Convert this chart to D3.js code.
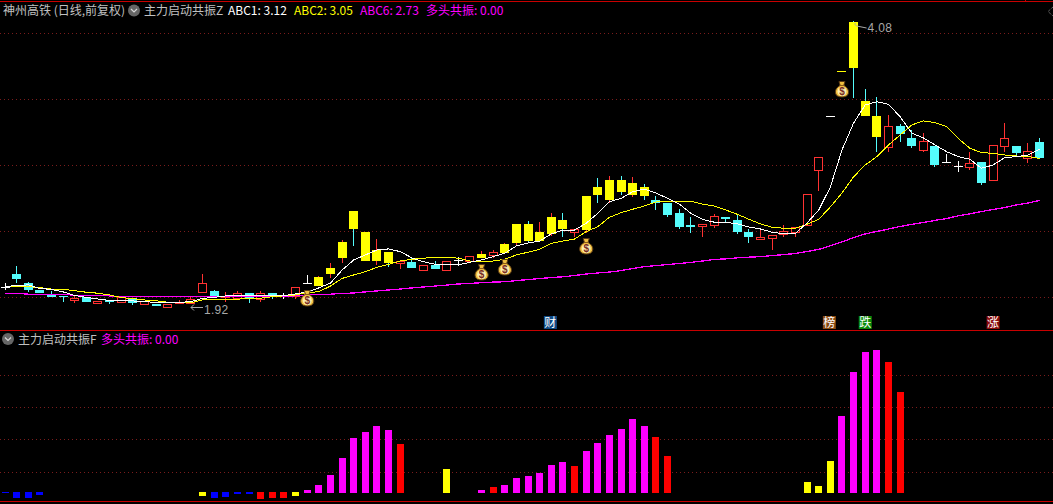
<!DOCTYPE html>
<html>
<head>
<meta charset="utf-8">
<script src="https://cdn.jsdelivr.net/npm/d3@7"></script>
<style>
  html, body { margin: 0; padding: 0; background: #000; overflow: hidden; }
  text { font-family: "Noto Sans CJK SC", "Liberation Sans", sans-serif; font-size: 12px; }
  .num { font-family: "Liberation Sans", sans-serif; letter-spacing: 0.3px; }
</style>
</head>
<body>
<div id="chart"></div>
<script>
// --- Data ---
const opens = [
  2.036, 2.104, 2.053, 2.018, 1.992, 1.984, 1.968, 1.982, 1.949, 1.966,
  1.954, 1.975, 1.947, 1.947, 1.932, 1.950, 1.949, 2.009, 2.013, 1.984,
  1.978, 2.001, 1.970, 2.001, 1.988, 1.988, 2.053, 2.041, 2.104, 2.195,
  2.482, 2.349, 2.177, 2.229, 2.166, 2.170, 2.128, 2.155, 2.128, 2.183,
  2.176, 2.195, 2.212, 2.224, 2.282, 2.399, 2.294, 2.337, 2.424, 2.351,
  2.361, 2.642, 2.554, 2.691, 2.587, 2.642, 2.554, 2.534, 2.469, 2.392,
  2.386, 2.392, 2.443, 2.424, 2.349, 2.306, 2.314, 2.337, 2.351, 2.392,
  2.762, 3.180, 3.584, 4.070, 3.309, 3.182, 2.936, 3.100, 3.004, 2.911,
  2.942, 2.819, 2.794, 2.782, 2.821, 2.693, 2.945, 2.942, 2.851, 2.973
];
const highs = [
  2.055, 2.149, 2.060, 2.018, 2.013, 1.988, 1.992, 1.982, 1.961, 1.966,
  1.983, 1.975, 1.959, 1.947, 1.946, 1.966, 1.982, 2.104, 2.018, 2.009,
  2.013, 2.001, 2.013, 2.001, 2.004, 2.032, 2.098, 2.093, 2.166, 2.300,
  2.482, 2.349, 2.306, 2.229, 2.176, 2.195, 2.153, 2.177, 2.176, 2.202,
  2.204, 2.235, 2.241, 2.282, 2.399, 2.418, 2.411, 2.469, 2.469, 2.365,
  2.581, 2.705, 2.719, 2.719, 2.712, 2.663, 2.581, 2.534, 2.495, 2.443,
  2.399, 2.463, 2.443, 2.456, 2.367, 2.367, 2.329, 2.392, 2.380, 2.594,
  2.858, 3.180, 3.584, 4.080, 3.415, 3.344, 3.190, 3.116, 3.067, 3.043,
  2.942, 2.881, 2.829, 2.896, 2.821, 2.948, 3.124, 2.942, 2.965, 3.004
];
const lows = [
  2.023, 2.062, 2.013, 2.002, 1.982, 1.962, 1.956, 1.957, 1.949, 1.952,
  1.954, 1.947, 1.947, 1.935, 1.932, 1.949, 1.949, 2.009, 1.987, 1.962,
  1.978, 1.957, 1.961, 1.978, 1.975, 1.978, 2.053, 2.041, 2.086, 2.173,
  2.270, 2.177, 2.160, 2.149, 2.136, 2.137, 2.128, 2.132, 2.128, 2.156,
  2.176, 2.195, 2.199, 2.224, 2.276, 2.288, 2.294, 2.331, 2.324, 2.324,
  2.349, 2.541, 2.541, 2.594, 2.581, 2.561, 2.495, 2.450, 2.374, 2.349,
  2.324, 2.380, 2.411, 2.343, 2.288, 2.306, 2.247, 2.324, 2.324, 2.392,
  2.621, 3.180, 3.574, 3.344, 3.182, 2.903, 2.903, 2.980, 2.934, 2.903,
  2.792, 2.819, 2.755, 2.769, 2.663, 2.693, 2.903, 2.866, 2.821, 2.851
];
const closes = [
  2.036, 2.076, 2.018, 2.002, 1.983, 1.982, 1.976, 1.957, 1.961, 1.957,
  1.983, 1.952, 1.959, 1.935, 1.946, 1.955, 1.970, 2.053, 1.987, 1.989,
  2.001, 1.978, 2.001, 1.987, 1.988, 2.032, 2.053, 2.088, 2.137, 2.288,
  2.367, 2.177, 2.241, 2.166, 2.176, 2.137, 2.153, 2.132, 2.176, 2.183,
  2.204, 2.218, 2.229, 2.276, 2.399, 2.294, 2.349, 2.443, 2.367, 2.365,
  2.581, 2.587, 2.691, 2.608, 2.670, 2.581, 2.534, 2.456, 2.380, 2.380,
  2.399, 2.450, 2.430, 2.349, 2.318, 2.318, 2.329, 2.355, 2.380, 2.594,
  2.858, 3.180, 3.574, 3.608, 3.182, 3.012, 3.097, 3.035, 2.942, 2.978,
  2.799, 2.819, 2.794, 2.812, 2.670, 2.948, 3.001, 2.889, 2.901, 2.851
];
const abc1 = [
  2.036, 2.042, 2.045, 2.026, 2.021, 2.008, 1.989, 1.979, 1.971, 1.963,
  1.961, 1.961, 1.958, 1.953, 1.953, 1.953, 1.958, 1.974, 1.979, 1.987,
  1.989, 1.989, 1.989, 1.989, 1.989, 1.997, 2.008, 2.029, 2.055, 2.126,
  2.183, 2.212, 2.241, 2.247, 2.231, 2.195, 2.173, 2.158, 2.155, 2.155,
  2.170, 2.183, 2.202, 2.222, 2.265, 2.282, 2.294, 2.337, 2.361, 2.361,
  2.403, 2.467, 2.543, 2.565, 2.610, 2.628, 2.601, 2.565, 2.527, 2.467,
  2.428, 2.410, 2.410, 2.399, 2.380, 2.367, 2.347, 2.338, 2.341, 2.405,
  2.488, 2.642, 2.911, 3.124, 3.275, 3.303, 3.281, 3.176, 3.043, 3.004,
  2.950, 2.898, 2.861, 2.841, 2.775, 2.799, 2.853, 2.861, 2.873, 2.916
];
const abc2 = [
  2.039, 2.039, 2.036, 2.030, 2.023, 2.022, 2.014, 2.006, 2.001, 1.992,
  1.978, 1.973, 1.966, 1.962, 1.954, 1.952, 1.952, 1.966, 1.966, 1.970,
  1.970, 1.975, 1.975, 1.983, 1.987, 1.992, 2.004, 2.009, 2.039, 2.080,
  2.099, 2.117, 2.141, 2.158, 2.177, 2.187, 2.193, 2.199, 2.199, 2.193,
  2.177, 2.177, 2.177, 2.187, 2.212, 2.228, 2.245, 2.280, 2.294, 2.306,
  2.351, 2.382, 2.441, 2.471, 2.493, 2.514, 2.541, 2.545, 2.545, 2.545,
  2.527, 2.514, 2.488, 2.460, 2.428, 2.399, 2.378, 2.372, 2.372, 2.397,
  2.428, 2.508, 2.601, 2.714, 2.799, 2.861, 2.950, 3.027, 3.108, 3.141,
  3.127, 3.094, 3.001, 2.924, 2.891, 2.886, 2.873, 2.866, 2.861, 2.848
];
const abc6 = [
  2.001, 2.001, 1.996, 1.996, 1.996, 1.996, 1.990, 1.990, 1.990, 1.987,
  1.983, 1.983, 1.983, 1.983, 1.983, 1.983, 1.983, 1.983, 1.983, 1.983,
  1.983, 1.983, 1.983, 1.983, 1.983, 1.988, 1.992, 1.994, 1.996, 2.000,
  2.002, 2.008, 2.013, 2.018, 2.023, 2.029, 2.034, 2.039, 2.044, 2.050,
  2.053, 2.057, 2.060, 2.062, 2.068, 2.074, 2.079, 2.085, 2.089, 2.096,
  2.104, 2.110, 2.115, 2.123, 2.135, 2.145, 2.151, 2.157, 2.163, 2.169,
  2.177, 2.186, 2.189, 2.195, 2.199, 2.202, 2.208, 2.214, 2.220, 2.232,
  2.244, 2.266, 2.288, 2.315, 2.337, 2.352, 2.367, 2.383, 2.396, 2.408,
  2.421, 2.433, 2.450, 2.463, 2.478, 2.491, 2.504, 2.521, 2.534, 2.551
];
const yellowBars = [27, 28, 29, 30, 31, 32, 33, 41, 43, 44, 45, 46, 47, 48, 50, 51, 52, 53, 54, 55, 72, 73, 74, 75];
const signalBars = [26, 41, 43, 50, 72];
const signalPrices = [1.976, 2.115, 2.143, 2.264, 3.415];
const priceGrid = [3.954, 3.327, 2.799, 2.355, 1.982];

// b blue, y yellow, r red, m magenta, . nothing drawn
const histValues = [
  -1, -6, -6, -3, 0, 0, 0, 0, 0, 0,
  0, 0, 0, 0, 0, 0, 0, -4, -6, -5,
  -2, -2, -7, -6, -6, -4, 3, 8, 18, 35,
  55, 61, 67, 63, 49, 0, 0, 0, 24, 0,
  0, 3, 6, 8, 15, 17, 20, 28, 31, 27,
  42, 50, 58, 64, 74, 67, 56, 37, 0, 0,
  0, 0, 0, 0, 0, 0, 0, 0, 0, 11,
  7, 32, 77, 121, 141, 143, 131, 101, 0, 0,
  0, 0, 0, 0, 0, 0, 0, 0, 0, 0
];
const histKinds = (
  "bbbb......" + ".......ybb" +
  "bbrrrymmmm" + "mmmmr...y." +
  ".mrmmmmmmr" + "mmmmmmrr.." +
  ".........y" + "yymmmmrr.." +
  ".........."
).split("");
const histGrid = [21, 54, 86, 118];

const headerTexts = ["神州高铁 (日线,前复权)", "主力启动共振Z", "ABC1: 3.12", "ABC2: 3.05", "ABC6: 2.73", "多头共振: 0.00"];
const subTexts = ["主力启动共振F", "多头共振: 0.00"];
const flags = ["财", "榜", "跌", "涨"];
const flagBars = [47, 71, 74, 85];
const highLabel = 4.08, lowLabel = 1.92;
const highBar = 73, lowBar = 16;

// --- Dimensions ---
const width = 1053, height = 504;
const bodyWidth = 9, histWidth = 7;
const colors = { up: "#ff3232", down: "#54fcfc", flat: "#ffffff", yellow: "#ffff00", magenta: "#ff00ff",
  blue: "#0000ff", red: "#ff0000", grid: "#7a1c1c", frame: "#c80000", label: "#a8a8a8" };

const svg = d3.select("#chart").append("svg")
  .attr("width", width).attr("height", height)
  .style("display", "block")
  .style("background", "#000");

// --- Scales ---
const x = d3.scaleLinear().domain([0, opens.length - 1]).range([5, 1039.6]);
const y = d3.scaleLog().domain([lowLabel, highLabel]).range([309, 21]);
const h = d3.scaleLinear().domain([0, 143]).range([493, 350]);

const snap = v => Math.round(v) + 0.5;

// --- Frame and grid ---
const dotted = (g, yVal) => g.append("line")
  .attr("x1", 0).attr("x2", width)
  .attr("y1", snap(yVal)).attr("y2", snap(yVal))
  .attr("stroke", colors.grid)
  .attr("stroke-dasharray", "1 3");

priceGrid.forEach(p => dotted(svg, y(p)));
histGrid.forEach(v => dotted(svg, h(v)));

[1, 330, 501].forEach(yy => {
  svg.append("line").attr("x1", 0).attr("x2", width)
    .attr("y1", yy + 0.5).attr("y2", yy + 0.5)
    .attr("stroke", colors.frame);
});
svg.append("line").attr("x1", 1025.5).attr("x2", 1025.5).attr("y1", 0).attr("y2", 2).attr("stroke", colors.frame);

// --- Candles ---
const candles = svg.append("g").attr("shape-rendering", "crispEdges");
opens.forEach((o, i) => {
  const c = closes[i];
  const dir = c > o ? "up" : c < o ? "down" : "flat";
  const isYellow = yellowBars.includes(i);
  const cx = Math.floor(x(i));
  const top = Math.round(y(Math.max(o, c)));
  const bottom = Math.round(y(Math.min(o, c)));
  const wickTop = Math.round(y(highs[i]));
  const wickBottom = Math.round(y(lows[i]));

  if (wickTop < top) {
    candles.append("line")
      .attr("x1", cx + 0.5).attr("x2", cx + 0.5)
      .attr("y1", wickTop).attr("y2", top)
      .attr("stroke", colors[dir]);
  }
  if (wickBottom > bottom) {
    candles.append("line")
      .attr("x1", cx + 0.5).attr("x2", cx + 0.5)
      .attr("y1", bottom).attr("y2", wickBottom + 1)
      .attr("stroke", colors[dir]);
  }

  if (dir === "up" && !isYellow) {
    candles.append("rect")
      .attr("x", cx - 4 + 0.5).attr("y", top + 0.5)
      .attr("width", bodyWidth - 1).attr("height", Math.max(1, bottom - top))
      .attr("fill", "#000").attr("stroke", colors.up);
  } else {
    candles.append("rect")
      .attr("x", cx - 4).attr("y", top)
      .attr("width", bodyWidth).attr("height", Math.max(1, bottom - top))
      .attr("fill", isYellow ? colors.yellow : colors[dir]);
  }
});

// --- Moving lines ---
const priceLine = d3.line().x((d, i) => x(i)).y(d => y(d));
[[abc6, colors.magenta, 1.3], [abc2, colors.yellow, 1], [abc1, "#ffffff", 1]].forEach(([vals, col, sw]) => {
  svg.append("path").datum(vals)
    .attr("d", priceLine)
    .attr("fill", "none")
    .attr("stroke", col)
    .attr("stroke-width", sw)
    .attr("shape-rendering", "crispEdges");
});

// --- Money bags ---
signalBars.forEach((b, i) => {
  const g = svg.append("g").attr("transform", `translate(${x(b)},${y(signalPrices[i])})`);
  g.append("path")
    .attr("d", "M-3,-7.5 L3,-7.5 L1.8,-3.5 C5,-2 7,1 6.5,4 C6,7 3,8 0,8 C-3,8 -6,7 -6.5,4 C-7,1 -5,-2 -1.8,-3.5 Z")
    .attr("fill", "#f0c040")
    .attr("stroke", "#5c3a14")
    .attr("stroke-width", 1);
  g.append("ellipse").attr("cx", 0).attr("cy", 2.5).attr("rx", 4.5).attr("ry", 4.5).attr("fill", "#fbeeb0");
  g.append("line").attr("x1", -2.5).attr("x2", 2.5).attr("y1", -3.5).attr("y2", -3.5)
    .attr("stroke", "#8a5a1c").attr("stroke-width", 1);
  g.append("text")
    .attr("y", 6)
    .attr("text-anchor", "middle")
    .attr("fill", "#7a2c22")
    .style("font-family", "Liberation Sans")
    .style("font-size", "10px")
    .style("font-weight", "bold")
    .text("$");
});

// --- High / low marks ---
svg.append("path")
  .attr("d", `M${x(highBar) + 1},${y(highLabel) + 3} l2,2 l10,2 M${x(highBar) + 1},${y(highLabel) + 3} l1,-1`)
  .attr("fill", "none").attr("stroke", colors.label);
svg.append("text").attr("class", "num")
  .attr("x", x(highBar) + 14).attr("y", y(highLabel) + 11)
  .attr("fill", colors.label).text(highLabel.toFixed(2));
const lowY = y(lowLabel) - 1.5;
svg.append("path")
  .attr("d", `M${x(lowBar) + 12},${lowY} H${x(lowBar)} m3,-3 l-3,3 l3,3`)
  .attr("fill", "none").attr("stroke", colors.label);
svg.append("text").attr("class", "num")
  .attr("x", x(lowBar) + 13).attr("y", lowY + 6)
  .attr("fill", colors.label).text(lowLabel.toFixed(2));

// --- Histogram ---
const kindColor = { b: colors.blue, y: colors.yellow, r: colors.red, m: colors.magenta };
svg.append("g").attr("shape-rendering", "crispEdges")
  .selectAll("rect")
  .data(histValues.map((v, i) => ({ v, i, kind: histKinds[i] })).filter(d => d.v !== 0))
  .enter()
  .append("rect")
  .attr("x", d => Math.round(x(d.i) - histWidth / 2))
  .attr("y", d => d.v > 0 ? h(d.v) : h(0) - 1)
  .attr("width", histWidth)
  .attr("height", d => Math.abs(h(d.v) - h(0)))
  .attr("fill", d => kindColor[d.kind]);

// --- Flags above the lower panel ---
const flagFills = ["#0f4a86", "#8a4a10", "#0a8a0a", "#8a0a0a"];
flags.forEach((f, i) => {
  const cx = x(flagBars[i]) + [-1, -1, 0, 0][i];
  svg.append("rect").attr("x", cx - 6.5).attr("y", 316).attr("width", 13).attr("height", 13).attr("fill", flagFills[i]);
  svg.append("text").attr("x", cx).attr("y", 327)
    .attr("text-anchor", "middle").attr("fill", "#fff").text(f);
});

// --- Header text ---
const chevron = (cx, cy) => {
  svg.append("circle").attr("cx", cx).attr("cy", cy).attr("r", 6).attr("fill", "#666");
  svg.append("path").attr("d", `M${cx - 3},${cy - 1.5} L${cx},${cy + 1.5} L${cx + 3},${cy - 1.5}`)
    .attr("fill", "none").attr("stroke", "#d8d8d8").attr("stroke-width", 1.2);
};
const headerX = [3, 144, 228, 294, 360, 426];
const headerFill = ["#c0c0c0", "#c0c0c0", "#ffffff", colors.yellow, colors.magenta, colors.magenta];
headerTexts.forEach((t, i) => {
  svg.append("text").attr("x", headerX[i]).attr("y", 15)
    .attr("fill", headerFill[i]).text(t);
});
chevron(134, 10.5);
const subX = [18, 101];
const subFill = ["#c0c0c0", colors.magenta];
subTexts.forEach((t, i) => {
  svg.append("text").attr("x", subX[i]).attr("y", 344)
    .attr("fill", subFill[i]).text(t);
});
chevron(8, 339);

// small side handle at the top right
svg.append("path").attr("d", "M1053,7 L1048,11.5 L1053,16")
  .attr("fill", "none").attr("stroke", "#888").attr("stroke-dasharray", "1 1");
</script>
</body>
</html>
